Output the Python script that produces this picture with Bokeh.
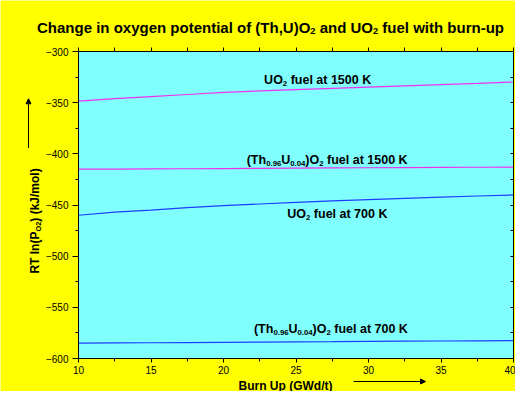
import math
from bokeh.plotting import figure
from bokeh.models import Range1d, LinearAxis, FixedTicker, Label, Arrow, NormalHead, BoxAnnotation
from bokeh.embed import file_html
from bokeh.resources import INLINE

# ---------------- data ----------------
burnup = [10, 12.5, 15, 17.5, 20, 22.5, 25, 27.5, 30, 32.5, 35, 37.5, 40]
uo2_1500 = [-348.5, -346, -344, -342, -340, -338.5, -337.2, -336, -334.8, -333.6, -332.4, -331.2, -329.8]
th_1500 = [-415, -414.9, -414.7, -414.6, -414.4, -414.2, -414, -413.8, -413.6, -413.4, -413.3, -413.1, -413]
uo2_700 = [-460, -457, -455, -452.5, -450.7, -449, -447.5, -446, -444.8, -443.5, -442.3, -441.2, -440.2]
th_700 = [-585, -584.8, -584.6, -584.4, -584.2, -584, -583.8, -583.6, -583.3, -583.1, -582.9, -582.7, -582.5]

x_major = [10, 15, 20, 25, 30, 35, 40]
x_minor = [10, 12.5, 15, 17.5, 20, 22.5, 25, 27.5, 30, 32.5, 35, 37.5, 40]
y_major = [-600, -550, -500, -450, -400, -350, -300]
y_minor = [-600, -575, -550, -525, -500, -475, -450, -425, -400, -375, -350, -325, -300]

title_parts = [("Change in oxygen potential of (Th,U)O", 0), ("2", 1), (" and UO", 0), ("2", 1), (" fuel with burn-up", 0)]
ylabel_parts = [("RT ln(P", 0), ("O2", 1), (") (kJ/mol)", 0)]
xlabel_parts = [("Burn Up (GWd/t)", 0)]
lab_uo2_1500 = [("UO", 0), ("2", 1), (" fuel at 1500 K", 0)]
lab_th_1500 = [("(Th", 0), ("0.96", 1), ("U", 0), ("0.04", 1), (")O", 0), ("2", 1), (" fuel at 1500 K", 0)]
lab_uo2_700 = [("UO", 0), ("2", 1), (" fuel at 700 K", 0)]
lab_th_700 = [("(Th", 0), ("0.96", 1), ("U", 0), ("0.04", 1), (")O", 0), ("2", 1), (" fuel at 700 K", 0)]

# ---------------- layout ----------------
W, H = 515, 391
PL, PR, PT, PB = 78, 513, 51, 358      # pixel box of the data area inside the canvas
X0, X1, Y0, Y1 = 10, 40, -600, -300
XPX = (PR - PL) / (X1 - X0)
YPX = (PB - PT) / (Y1 - Y0)
FONT = "Liberation Sans"
MAGENTA = "#f030f0"
BLUE = "#1f3cff"

def fx(cx):   # canvas pixel x -> data x
    return X0 + (cx - PL) / XPX

def fy(cy):   # canvas pixel y (from top) -> data y
    return Y1 - (cy - PT) / YPX

def ry(r):    # reference-picture y -> canvas y
    return PT + (r - 53) * (PB - PT) / 318.0

ARIAL_BOLD = {' ': 278, '(': 333, ')': 333, ',': 278, '-': 333, '.': 278, '/': 278,
              'A': 722, 'B': 722, 'C': 722, 'D': 722, 'E': 667, 'F': 611, 'G': 778, 'H': 722,
              'I': 278, 'J': 556, 'K': 722, 'L': 611, 'M': 833, 'N': 722, 'O': 778, 'P': 667,
              'R': 722, 'S': 667, 'T': 611, 'U': 722, 'W': 944,
              'a': 556, 'b': 611, 'c': 556, 'd': 611, 'e': 556, 'f': 333, 'g': 611, 'h': 611,
              'i': 278, 'j': 278, 'k': 556, 'l': 278, 'm': 889, 'n': 611, 'o': 611, 'p': 611,
              'r': 389, 's': 556, 't': 333, 'u': 611, 'w': 778, 'x': 556, 'y': 556}

def tw(s, size):
    return sum(ARIAL_BOLD.get(c, 556) for c in s) * size / 1000.0

# the frame covers the whole canvas; axes are pinned to the data box with fixed_location
p = figure(width=W, height=H, x_range=Range1d(fx(0), fx(W)), y_range=Range1d(fy(H), fy(0)),
           output_backend="svg", toolbar_location=None, x_axis_location=None, y_axis_location=None,
           min_border=0, min_border_left=0, min_border_right=0, min_border_top=0, min_border_bottom=0)
p.background_fill_color = "#ffff00"
p.border_fill_color = "#ffff00"
p.outline_line_color = None
p.grid.visible = False

p.add_layout(BoxAnnotation(left=X0, right=X1, bottom=Y0, top=Y1, fill_color="#80ffff", fill_alpha=1,
                           line_color="black", line_width=1, level="underlay"))

def style(ax):
    ax.axis_line_color = "black"
    ax.major_tick_line_color = "black"
    ax.minor_tick_line_color = "black"
    ax.major_label_text_font = FONT
    ax.major_label_text_font_size = "10px"
    ax.major_label_text_color = "black"
    return ax

bottom = style(LinearAxis(ticker=FixedTicker(ticks=x_major, minor_ticks=x_minor), fixed_location=Y0,
                          bounds=(X0, X1), major_tick_out=4, major_tick_in=0, minor_tick_out=3, minor_tick_in=0,
                          major_label_standoff=3))
left = style(LinearAxis(ticker=FixedTicker(ticks=y_major, minor_ticks=y_minor), fixed_location=X0,
                        bounds=(Y0, Y1), major_tick_out=6, major_tick_in=0, minor_tick_out=3, minor_tick_in=0,
                        major_label_standoff=4))
top = style(LinearAxis(ticker=FixedTicker(ticks=[], minor_ticks=x_minor), fixed_location=Y1,
                       bounds=(X0, X1), minor_tick_out=4, minor_tick_in=0, major_tick_out=0, major_tick_in=0))
right = style(LinearAxis(ticker=FixedTicker(ticks=[], minor_ticks=y_minor), fixed_location=X1,
                         bounds=(Y0, Y1), minor_tick_out=0, minor_tick_in=3, major_tick_out=0, major_tick_in=0))
p.add_layout(bottom, "below")
p.add_layout(left, "left")
p.add_layout(top, "above")
p.add_layout(right, "right")

# ---------------- lines ----------------
p.line(burnup, uo2_1500, line_color=MAGENTA, line_width=1.2)
p.line(burnup, th_1500, line_color=MAGENTA, line_width=1.2)
p.line(burnup, uo2_700, line_color=BLUE, line_width=1.2)
p.line(burnup, th_700, line_color=BLUE, line_width=1.2)

# ---------------- rich text helpers ----------------
def mk_label(**kw):
    return Label(text_font=FONT, text_font_style="bold", text_color="black",
                 text_baseline="alphabetic", text_align="left", **kw)

def rich(x, y, parts, size, sub_ratio=0.62, drop=3.5):
    off = 0.0
    for txt, sub in parts:
        fs = size * sub_ratio if sub else size
        stripped = txt.lstrip(" ")
        off += tw(txt[:len(txt) - len(stripped)], fs)
        d = drop / YPX if sub else 0
        p.add_layout(mk_label(x=x, y=y - d, x_offset=off, text=stripped.rstrip(" "),
                              text_font_size=f"{fs:.1f}px"))
        off += tw(stripped, fs)

def rich_vertical(x, y, parts, size, sub_ratio=0.62, drop=3.5):
    off = 0.0
    for txt, sub in parts:
        fs = size * sub_ratio if sub else size
        stripped = txt.lstrip(" ")
        off += tw(txt[:len(txt) - len(stripped)], fs)
        xx = x + (drop / XPX if sub else 0)
        p.add_layout(mk_label(x=xx, y=y + off / YPX, angle=math.pi / 2, text=stripped.rstrip(" "),
                              text_font_size=f"{fs:.1f}px"))
        off += tw(stripped, fs)

def parts_width(parts, size, sub_ratio=0.62):
    return sum(tw(t, size * sub_ratio if s else size) for t, s in parts)

def arrow(x0, y0, x1, y1):
    p.add_layout(Arrow(end=NormalHead(size=5, fill_color="black", line_color="black"),
                       x_start=x0, y_start=y0, x_end=x1, y_end=y1,
                       line_color="black", line_width=1))

# title (centered on the reference title)
TS = 15
rich(fx(270 - parts_width(title_parts, TS) / 2), fy(27), title_parts, TS)

# curve labels
LS = 12.5
rich(22.8, -328.3, lab_uo2_1500, LS)
rich(21.6, -405.7, lab_th_1500, LS)
rich(24.4, -459.0, lab_uo2_700, LS)
rich(22.1, -570.8, lab_th_700, LS)

# y-axis label (rotated) with arrow
YS = 12
rich_vertical(fx(34), fy(ry(228.5) + parts_width(ylabel_parts, YS) / 2), ylabel_parts, YS)
arrow(fx(28), fy(ry(153)), fx(28), fy(ry(102)))

# x-axis label with arrow
XS = 12
rich(fx(285 - parts_width(xlabel_parts, XS) / 2), fy(385), xlabel_parts, XS)
arrow(fx(353), fy(381), fx(425), fy(381))

open("out.html", "w").write(file_html(p, INLINE))
